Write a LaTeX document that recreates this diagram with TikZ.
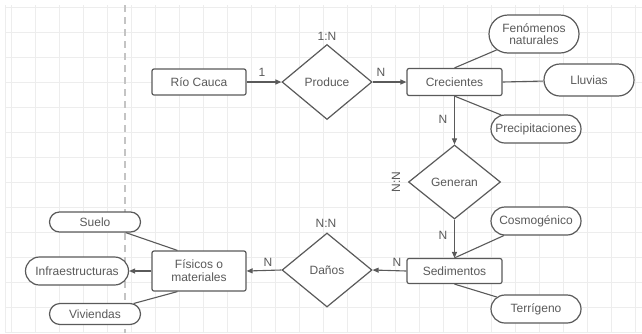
\documentclass[tikz,border=0pt]{standalone}
\usepackage{fontspec}
\setmainfont{Liberation Sans}
\usetikzlibrary{shapes.geometric,shapes.misc,arrows.meta}
\definecolor{linec}{HTML}{5A5A5A}
\definecolor{txt}{HTML}{5A5A5A}
\definecolor{gridc}{HTML}{EDEDED}
\definecolor{dashc}{HTML}{C4C4C4}
\begin{document}
\begin{tikzpicture}[x=1pt,y=-1pt,
  lbl/.style={font=\fontsize{12}{13}\selectfont, text=txt},
  entity/.style={draw=linec, line width=1.2pt, rounded corners=2pt, fill=white,
    minimum width=94pt, minimum height=26pt, inner sep=1pt, align=center, lbl},
  attr/.style={draw=linec, line width=1.2pt, rounded rectangle, fill=white,
    minimum width=92pt, minimum height=28pt, inner sep=1pt, align=center, lbl},
  rel/.style={draw=linec, line width=1.2pt, diamond, fill=white,
    minimum width=90pt, minimum height=75pt, inner sep=0pt, lbl},
  conn/.style={draw=linec, line width=1.1pt},
  arr/.style={conn, -{Triangle[length=6pt,width=5pt]}},
  card/.style={lbl, inner sep=1pt}
]
\useasboundingbox (0,0) rectangle (642,333);
\fill[white] (0,0) rectangle (642,333);
% grid
\foreach \gx in {11,35,59,83,107,131,155,179,203,227,251,275,299,323,347,371,395,419,443,467,491,515,539,563,587,611,635}
  \draw[gridc, line width=0.6pt] (\gx,5) -- (\gx,333);
\foreach \gy in {7,32,57,82,107,132,157,182,207,232,257,282,307,332}
  \draw[gridc, line width=0.6pt] (5,\gy) -- (642,\gy);
\draw[gridc, line width=0.6pt] (5,5) -- (5,333);
\draw[dashc, line width=1.2pt, dash pattern=on 7pt off 5pt] (125,5) -- (125,333);

% nodes
\node[entity] (rio) at (199,82) {Río Cauca};
\node[rel] (prod) at (327,82) {Produce};
\node[entity, minimum width=95pt, minimum height=27pt] (crec) at (454.5,82) {Crecientes};
\node[attr, minimum height=38pt, align=center] (fen) at (534,34) {Fenómenos\\[-1pt]naturales};
\node[attr, minimum height=32pt] (llu) at (589,80) {Lluvias};
\node[attr] (prec) at (536,129) {Precipitaciones};
\node[rel, minimum width=92pt, minimum height=74pt] (gen) at (454.5,182) {Generan};
\node[entity, minimum width=95pt, minimum height=25pt] (sed) at (454.5,271) {Sedimentos};
\node[attr] (cos) at (536,221) {Cosmogénico};
\node[attr] (ter) at (536,309) {Terrígeno};
\node[rel, minimum height=74pt] (dan) at (327,270) {Daños};
\node[entity, minimum height=40pt, align=center] (fis) at (199,271) {Físicos o\\materiales};
\node[attr, minimum width=93pt, minimum height=20pt] (sue) at (95,222) {Suelo};
\node[attr, minimum width=105pt, minimum height=28pt] (inf) at (77,271) {Infraestructuras};
\node[attr, minimum width=93pt, minimum height=21pt] (viv) at (95,314) {Viviendas};

% connectors
\draw[arr] (rio.east) -- (prod.west);
\draw[arr] (prod.east) -- (crec.west);
\draw[arr] (crec.south) -- (gen.north);
\draw[arr] (gen.south) -- (sed.north);
\draw[arr] (sed.west) -- (dan.east);
\draw[arr] (dan.west) -- (fis.east);
\draw[arr] (fis.west) -- (inf.east);
\draw[conn] (crec.north) -- (fen);
\draw[conn] (crec.east) -- (llu);
\draw[conn] (crec.south) -- (prec);
\draw[conn] (sed.north) -- (cos);
\draw[conn] (sed.south) -- (ter);
\coordinate (fistop) at ([xshift=26pt]fis.north west);
\coordinate (fisbot) at ([xshift=26pt]fis.south west);
\draw[conn] (fistop) -- (sue);
\draw[conn] (fisbot) -- (viv);

% cardinalities
\node[card] (c1) at (262,72) {1};
\node[card] (c2) at (381,72) {N};
\node[card] (c3) at (327,36) {1:N};
\node[card] (c4) at (443,119) {N};
\node[card, rotate=90] (c5) at (396,182) {N:N};
\node[card] (c6) at (443,235) {N};
\node[card] (c7) at (397,262) {N};
\node[card] (c8) at (326,223) {N:N};
\node[card] (c9) at (268,262) {N};
\end{tikzpicture}
\end{document}
